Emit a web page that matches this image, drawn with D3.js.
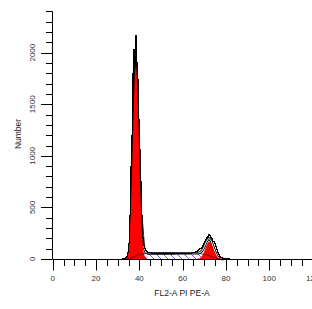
<!DOCTYPE html>
<html>
<head>
<meta charset="utf-8">
<script src="https://cdn.jsdelivr.net/npm/d3@7"></script>
<style>
  body { margin: 0; background: #fff; }
  svg { display: block; font-family: "Liberation Sans", Arial, sans-serif; }
</style>
</head>
<body>
<svg id="chart" width="312" height="309"></svg>
<script>
// raw histogram, half-channel bins starting at 32
var dataStart = 32, dataStep = 0.5;
var dataCounts = [
  2, 4, 7, 14, 28, 60, 150, 420, 900, 1200,
  1800, 2030, 2170, 1900, 1740, 1350, 1060, 750, 420, 210,
  130, 100, 84, 72, 66, 62, 60, 57, 55, 58,
  54, 56, 53, 57, 55, 52, 56, 54, 55, 53,
  57, 54, 52, 56, 55, 53, 54, 57, 55, 53,
  56, 54, 55, 57, 56, 54, 55, 58, 56, 55,
  57, 56, 58, 57, 59, 60, 62, 64, 68, 72,
  78, 88, 100, 115, 130, 150, 170, 190, 205, 222,
  235, 228, 212, 195, 172, 148, 120, 92, 66, 44,
  28, 17, 10, 6, 4, 3, 2, 1, 1, 0
];

// G1 peak model (red)
var g1Start = 33, g1Step = 0.5;
var g1Counts = [1, 4, 14, 39, 99, 221, 435, 752, 1147, 1537, 1814, 1885,
  1724, 1388, 983, 614, 337, 163, 69, 26, 9, 2, 0];

// S-phase model (hatched)
var sStart = 34, sStep = 1;
var sCounts = [0, 4, 10, 18, 27, 35, 42, 48, 51, 53, 54, 55, 55, 55, 55, 55,
  55, 55, 55, 55, 55, 55, 55, 56, 56, 56, 56, 56, 56, 56, 56, 56, 56, 55,
  52, 49, 45, 40, 34, 26, 18, 11, 5, 2, 0];

// G2 peak model (red)
var g2Start = 66.5, g2Step = 0.5;
var g2Counts = [1, 2, 5, 10, 18, 31, 50, 74, 102, 129, 152, 166, 167, 156,
  134, 108, 80, 55, 35, 20, 11, 6, 3, 1];

// total fit envelope
var fitStart = 33, fitStep = 1;
var fitCounts = [2, 15, 105, 445, 1165, 1840, 1760, 1025, 385, 120, 62,
  54, 55, 55, 55, 55, 55, 55, 55, 55, 55, 55, 55, 55, 56, 56, 56, 56, 56,
  56, 56, 56, 56, 56, 56, 62, 80, 119, 169, 200, 182, 126, 66, 25, 8, 1, 0];

var yMajor = [0, 500, 1000, 1500, 2000];
var xMajor = [0, 20, 40, 60, 80, 100, 120];

function toPoints(start, step, counts) {
  return counts.map(function (c, i) { return [start + i * step, c]; });
}

var svg = d3.select("#chart");
var x = d3.scaleLinear().domain([0, 120]).range([52.7, 312.6]);
var y = d3.scaleLinear().domain([0, 2400]).range([259, 11.4]);

var defs = svg.append("defs");
var pat = defs.append("pattern")
    .attr("id", "hatch")
    .attr("patternUnits", "userSpaceOnUse")
    .attr("width", 7).attr("height", 7);
pat.append("rect").attr("width", 7).attr("height", 7).attr("fill", "#fff");
pat.append("path")
    .attr("d", "M-1,-1 L8,8 M-1,6 L1,8 M6,-1 L8,1")
    .attr("stroke", "#3a3aff").attr("stroke-width", 0.8);

var area = d3.area()
    .x(function (d) { return x(d[0]); })
    .y0(y(0))
    .y1(function (d) { return y(d[1]); });
var line = d3.line()
    .x(function (d) { return x(d[0]); })
    .y(function (d) { return y(d[1]); });

var sPts = toPoints(sStart, sStep, sCounts);
// the envelope is only visible to the right of the G1 peak
var fitPts = toPoints(fitStart, fitStep, fitCounts).filter(function (d) { return d[0] >= 41; });

var dataPts = toPoints(dataStart, dataStep, dataCounts);
dataPts.push([dataStart + dataCounts.length * dataStep, 0]);

// S phase
svg.append("path").datum(sPts)
    .attr("d", area)
    .attr("fill", "url(#hatch)");

// fit envelope, double line
svg.append("path").datum(fitPts)
    .attr("d", line).attr("fill", "none")
    .attr("stroke", "#000").attr("stroke-width", 2.6);
svg.append("path").datum(fitPts)
    .attr("d", line).attr("fill", "none")
    .attr("stroke", "#fff").attr("stroke-width", 1);

// the G1 data bars are so narrow they read as solid black
svg.append("path")
    .datum(dataPts.filter(function (d) { return d[0] >= 35 && d[0] <= 41.5; }))
    .attr("d", d3.area()
        .x(function (d) { return x(d[0]); })
        .y0(y(0))
        .y1(function (d) { return y(d[1]); })
        .curve(d3.curveStepAfter))
    .attr("fill", "#000");

// G1 and G2
svg.append("path").datum(toPoints(g1Start, g1Step, g1Counts))
    .attr("d", area).attr("fill", "#ff0000");
svg.append("path").datum(toPoints(g2Start, g2Step, g2Counts))
    .attr("d", area).attr("fill", "#ff0000");

// S outline over the peaks
svg.append("path").datum(sPts)
    .attr("d", line).attr("fill", "none")
    .attr("stroke", "#222").attr("stroke-width", 0.8);

// raw data as steps
svg.append("path").datum(dataPts)
    .attr("d", line.curve(d3.curveStepAfter))
    .attr("fill", "none")
    .attr("shape-rendering", "crispEdges")
    .attr("stroke", "#000").attr("stroke-width", 1);

// axes
var ax = svg.append("g").attr("stroke", "#000").attr("stroke-width", 1);
ax.append("line")
    .attr("x1", 52.5).attr("x2", 52.5)
    .attr("y1", y(2400)).attr("y2", y(0));
ax.append("line")
    .attr("x1", 52.5).attr("x2", 312)
    .attr("y1", 259.5).attr("y2", 259.5);

ax.selectAll(".ymin").data(d3.range(100, 2401, 100)).enter().append("line")
    .attr("x1", 46).attr("x2", 52.5)
    .attr("y1", function (d) { return Math.round(y(d)) + 0.5; })
    .attr("y2", function (d) { return Math.round(y(d)) + 0.5; });
ax.selectAll(".ymaj").data(yMajor).enter().append("line")
    .attr("x1", 41).attr("x2", 52.5)
    .attr("y1", function (d) { return Math.round(y(d)) + 0.5; })
    .attr("y2", function (d) { return Math.round(y(d)) + 0.5; });

ax.selectAll(".xmin").data(d3.range(5, 121, 5)).enter().append("line")
    .attr("x1", function (d) { return Math.round(x(d)) + 0.5; })
    .attr("x2", function (d) { return Math.round(x(d)) + 0.5; })
    .attr("y1", 259.5).attr("y2", 266);
ax.selectAll(".xmaj").data(xMajor).enter().append("line")
    .attr("x1", function (d) { return Math.round(x(d)) + 0.5; })
    .attr("x2", function (d) { return Math.round(x(d)) + 0.5; })
    .attr("y1", 259.5).attr("y2", 270.5);

svg.selectAll(".ylab").data(yMajor).enter().append("text")
    .attr("transform", function (d) { return "translate(32," + y(d) + ") rotate(-90)"; })
    .attr("text-anchor", "middle").attr("dy", "0.35em")
    .attr("font-size", 8).attr("fill", "#333")
    .text(function (d) { return d; });

svg.selectAll(".xlab").data(xMajor).enter().append("text")
    .attr("x", function (d) { return x(d); }).attr("y", 278)
    .attr("text-anchor", "middle").attr("dy", "0.35em")
    .attr("font-size", 8).attr("fill", "#333")
    .text(function (d) { return d; });

svg.append("text")
    .attr("x", 182).attr("y", 293)
    .attr("text-anchor", "middle").attr("dy", "0.35em")
    .attr("font-size", 8.5).attr("fill", "#222")
    .text("FL2-A PI PE-A");

svg.append("text")
    .attr("transform", "translate(18,134) rotate(-90)")
    .attr("text-anchor", "middle").attr("dy", "0.35em")
    .attr("font-size", 8.5).attr("fill", "#222")
    .text("Number");
</script>
</body>
</html>
